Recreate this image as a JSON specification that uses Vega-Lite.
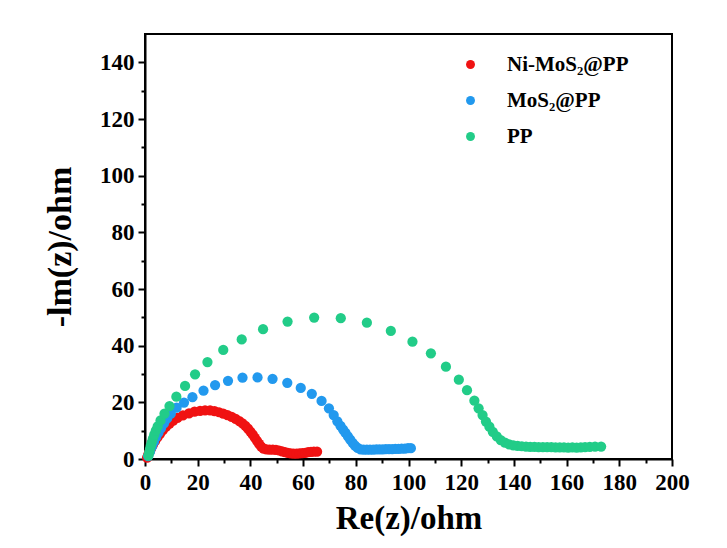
{
  "$schema": "https://vega.github.io/schema/vega-lite/v6.json",
  "width": 527,
  "height": 425,
  "autosize": {"type": "none"},
  "padding": {"left": 145, "top": 34, "right": 55, "bottom": 89},
  "background": "white",
  "config": {
    "view": {"stroke": "black", "strokeWidth": 2},
    "font": "Liberation Serif"
  },
  "data": {
    "values": [
      {"s": "Ni-MoS₂@PP", "x": 0.8, "y": 0.5}, {"s": "Ni-MoS₂@PP", "x": 1.2, "y": 1.5}, {"s": "Ni-MoS₂@PP", "x": 1.7, "y": 2.6}, {"s": "Ni-MoS₂@PP", "x": 2.3, "y": 3.7}, {"s": "Ni-MoS₂@PP", "x": 3.0, "y": 5.0}, {"s": "Ni-MoS₂@PP", "x": 3.8, "y": 6.3}, {"s": "Ni-MoS₂@PP", "x": 4.7, "y": 7.6}, {"s": "Ni-MoS₂@PP", "x": 5.7, "y": 8.9}, {"s": "Ni-MoS₂@PP", "x": 6.8, "y": 10.2}, {"s": "Ni-MoS₂@PP", "x": 8.0, "y": 11.4}, {"s": "Ni-MoS₂@PP", "x": 9.3, "y": 12.5}, {"s": "Ni-MoS₂@PP", "x": 10.7, "y": 13.5}, {"s": "Ni-MoS₂@PP", "x": 12.3, "y": 14.5}, {"s": "Ni-MoS₂@PP", "x": 14.4, "y": 15.4}, {"s": "Ni-MoS₂@PP", "x": 16.7, "y": 16.1}, {"s": "Ni-MoS₂@PP", "x": 18.8, "y": 16.7}, {"s": "Ni-MoS₂@PP", "x": 20.9, "y": 17.0}, {"s": "Ni-MoS₂@PP", "x": 22.8, "y": 17.2}, {"s": "Ni-MoS₂@PP", "x": 24.7, "y": 17.2}, {"s": "Ni-MoS₂@PP", "x": 26.4, "y": 16.9}, {"s": "Ni-MoS₂@PP", "x": 28.1, "y": 16.5}, {"s": "Ni-MoS₂@PP", "x": 29.7, "y": 16.0}, {"s": "Ni-MoS₂@PP", "x": 31.3, "y": 15.5}, {"s": "Ni-MoS₂@PP", "x": 32.9, "y": 14.9}, {"s": "Ni-MoS₂@PP", "x": 34.4, "y": 14.2}, {"s": "Ni-MoS₂@PP", "x": 35.8, "y": 13.4}, {"s": "Ni-MoS₂@PP", "x": 37.0, "y": 12.6}, {"s": "Ni-MoS₂@PP", "x": 38.1, "y": 11.7}, {"s": "Ni-MoS₂@PP", "x": 39.1, "y": 10.7}, {"s": "Ni-MoS₂@PP", "x": 40.0, "y": 9.7}, {"s": "Ni-MoS₂@PP", "x": 40.9, "y": 8.6}, {"s": "Ni-MoS₂@PP", "x": 41.7, "y": 7.5}, {"s": "Ni-MoS₂@PP", "x": 42.5, "y": 6.4}, {"s": "Ni-MoS₂@PP", "x": 43.3, "y": 5.3}, {"s": "Ni-MoS₂@PP", "x": 44.1, "y": 4.4}, {"s": "Ni-MoS₂@PP", "x": 45.0, "y": 3.7}, {"s": "Ni-MoS₂@PP", "x": 46.1, "y": 3.4}, {"s": "Ni-MoS₂@PP", "x": 47.3, "y": 3.3}, {"s": "Ni-MoS₂@PP", "x": 48.5, "y": 3.3}, {"s": "Ni-MoS₂@PP", "x": 49.7, "y": 3.2}, {"s": "Ni-MoS₂@PP", "x": 50.9, "y": 3.0}, {"s": "Ni-MoS₂@PP", "x": 52.0, "y": 2.7}, {"s": "Ni-MoS₂@PP", "x": 53.1, "y": 2.4}, {"s": "Ni-MoS₂@PP", "x": 54.2, "y": 2.2}, {"s": "Ni-MoS₂@PP", "x": 55.3, "y": 2.0}, {"s": "Ni-MoS₂@PP", "x": 56.4, "y": 1.9}, {"s": "Ni-MoS₂@PP", "x": 57.5, "y": 1.9}, {"s": "Ni-MoS₂@PP", "x": 58.6, "y": 2.0}, {"s": "Ni-MoS₂@PP", "x": 59.7, "y": 2.1}, {"s": "Ni-MoS₂@PP", "x": 60.8, "y": 2.2}, {"s": "Ni-MoS₂@PP", "x": 61.9, "y": 2.4}, {"s": "Ni-MoS₂@PP", "x": 63.0, "y": 2.5}, {"s": "Ni-MoS₂@PP", "x": 64.1, "y": 2.6}, {"s": "Ni-MoS₂@PP", "x": 65.3, "y": 2.6},

      {"s": "MoS₂@PP", "x": 1.2, "y": 1.0}, {"s": "MoS₂@PP", "x": 1.9, "y": 2.6}, {"s": "MoS₂@PP", "x": 2.6, "y": 4.3}, {"s": "MoS₂@PP", "x": 3.4, "y": 6.0}, {"s": "MoS₂@PP", "x": 4.2, "y": 7.7}, {"s": "MoS₂@PP", "x": 5.1, "y": 9.3}, {"s": "MoS₂@PP", "x": 6.1, "y": 10.9}, {"s": "MoS₂@PP", "x": 7.2, "y": 12.6}, {"s": "MoS₂@PP", "x": 8.4, "y": 14.3}, {"s": "MoS₂@PP", "x": 9.8, "y": 16.0}, {"s": "MoS₂@PP", "x": 12.0, "y": 18.1}, {"s": "MoS₂@PP", "x": 14.8, "y": 19.9}, {"s": "MoS₂@PP", "x": 18.0, "y": 21.8}, {"s": "MoS₂@PP", "x": 22.2, "y": 24.1}, {"s": "MoS₂@PP", "x": 26.6, "y": 26.1}, {"s": "MoS₂@PP", "x": 31.5, "y": 27.6}, {"s": "MoS₂@PP", "x": 37.0, "y": 28.7}, {"s": "MoS₂@PP", "x": 42.7, "y": 28.8}, {"s": "MoS₂@PP", "x": 48.4, "y": 28.3}, {"s": "MoS₂@PP", "x": 54.0, "y": 26.9}, {"s": "MoS₂@PP", "x": 59.1, "y": 25.1}, {"s": "MoS₂@PP", "x": 63.3, "y": 23.0}, {"s": "MoS₂@PP", "x": 67.0, "y": 20.5}, {"s": "MoS₂@PP", "x": 69.8, "y": 17.9}, {"s": "MoS₂@PP", "x": 71.6, "y": 15.5}, {"s": "MoS₂@PP", "x": 73.0, "y": 13.3}, {"s": "MoS₂@PP", "x": 74.2, "y": 11.7}, {"s": "MoS₂@PP", "x": 75.2, "y": 10.4}, {"s": "MoS₂@PP", "x": 76.1, "y": 9.2}, {"s": "MoS₂@PP", "x": 77.0, "y": 8.0}, {"s": "MoS₂@PP", "x": 77.9, "y": 6.8}, {"s": "MoS₂@PP", "x": 78.8, "y": 5.7}, {"s": "MoS₂@PP", "x": 79.7, "y": 4.7}, {"s": "MoS₂@PP", "x": 80.7, "y": 3.9}, {"s": "MoS₂@PP", "x": 81.8, "y": 3.4}, {"s": "MoS₂@PP", "x": 83.0, "y": 3.3}, {"s": "MoS₂@PP", "x": 84.2, "y": 3.3}, {"s": "MoS₂@PP", "x": 85.4, "y": 3.3}, {"s": "MoS₂@PP", "x": 86.6, "y": 3.3}, {"s": "MoS₂@PP", "x": 87.8, "y": 3.4}, {"s": "MoS₂@PP", "x": 89.0, "y": 3.4}, {"s": "MoS₂@PP", "x": 90.2, "y": 3.4}, {"s": "MoS₂@PP", "x": 91.4, "y": 3.5}, {"s": "MoS₂@PP", "x": 92.6, "y": 3.5}, {"s": "MoS₂@PP", "x": 93.8, "y": 3.5}, {"s": "MoS₂@PP", "x": 95.0, "y": 3.6}, {"s": "MoS₂@PP", "x": 96.2, "y": 3.6}, {"s": "MoS₂@PP", "x": 97.4, "y": 3.7}, {"s": "MoS₂@PP", "x": 98.6, "y": 3.7}, {"s": "MoS₂@PP", "x": 99.8, "y": 3.8}, {"s": "MoS₂@PP", "x": 100.9, "y": 3.8},

      {"s": "PP", "x": 1.3, "y": 1.2}, {"s": "PP", "x": 1.6, "y": 2.4}, {"s": "PP", "x": 1.9, "y": 3.6}, {"s": "PP", "x": 2.2, "y": 4.8}, {"s": "PP", "x": 2.6, "y": 6.0}, {"s": "PP", "x": 3.0, "y": 7.2}, {"s": "PP", "x": 3.5, "y": 8.6}, {"s": "PP", "x": 4.1, "y": 10.0}, {"s": "PP", "x": 4.8, "y": 11.5}, {"s": "PP", "x": 5.9, "y": 13.6}, {"s": "PP", "x": 7.4, "y": 16.0}, {"s": "PP", "x": 9.3, "y": 18.7}, {"s": "PP", "x": 11.9, "y": 22.0}, {"s": "PP", "x": 15.2, "y": 25.8}, {"s": "PP", "x": 19.0, "y": 29.9}, {"s": "PP", "x": 23.7, "y": 34.2}, {"s": "PP", "x": 29.7, "y": 38.5}, {"s": "PP", "x": 36.7, "y": 42.2}, {"s": "PP", "x": 44.8, "y": 45.8}, {"s": "PP", "x": 54.1, "y": 48.5}, {"s": "PP", "x": 64.2, "y": 49.9}, {"s": "PP", "x": 74.3, "y": 49.7}, {"s": "PP", "x": 84.2, "y": 48.1}, {"s": "PP", "x": 93.3, "y": 45.2}, {"s": "PP", "x": 101.5, "y": 41.4}, {"s": "PP", "x": 108.5, "y": 37.3}, {"s": "PP", "x": 114.2, "y": 32.6}, {"s": "PP", "x": 119.1, "y": 28.0}, {"s": "PP", "x": 122.2, "y": 24.3}, {"s": "PP", "x": 125.0, "y": 20.6}, {"s": "PP", "x": 126.6, "y": 17.9}, {"s": "PP", "x": 128.1, "y": 15.5}, {"s": "PP", "x": 129.4, "y": 13.2}, {"s": "PP", "x": 130.7, "y": 11.4}, {"s": "PP", "x": 132.0, "y": 9.6}, {"s": "PP", "x": 133.5, "y": 8.0}, {"s": "PP", "x": 135.0, "y": 6.7}, {"s": "PP", "x": 136.6, "y": 5.8}, {"s": "PP", "x": 138.2, "y": 5.2}, {"s": "PP", "x": 139.8, "y": 4.8}, {"s": "PP", "x": 141.4, "y": 4.6}, {"s": "PP", "x": 143.0, "y": 4.5}, {"s": "PP", "x": 144.6, "y": 4.4}, {"s": "PP", "x": 146.2, "y": 4.3}, {"s": "PP", "x": 147.8, "y": 4.3}, {"s": "PP", "x": 149.4, "y": 4.2}, {"s": "PP", "x": 151.0, "y": 4.2}, {"s": "PP", "x": 152.6, "y": 4.2}, {"s": "PP", "x": 154.2, "y": 4.2}, {"s": "PP", "x": 155.8, "y": 4.1}, {"s": "PP", "x": 157.4, "y": 4.1}, {"s": "PP", "x": 159.0, "y": 4.1}, {"s": "PP", "x": 160.6, "y": 4.0}, {"s": "PP", "x": 162.2, "y": 4.1}, {"s": "PP", "x": 163.8, "y": 4.0}, {"s": "PP", "x": 165.4, "y": 4.1}, {"s": "PP", "x": 167.0, "y": 4.2}, {"s": "PP", "x": 168.8, "y": 4.3}, {"s": "PP", "x": 170.8, "y": 4.4}, {"s": "PP", "x": 173.1, "y": 4.4}
    ]
  },
  "mark": {"type": "point", "filled": true, "size": 105, "opacity": 1, "strokeWidth": 0},
  "encoding": {
    "x": {
      "field": "x", "type": "quantitative",
      "scale": {"domain": [0, 200], "nice": false, "zero": false},
      "axis": {
        "title": "Re(z)/ohm",
        "values": [0, 10, 20, 30, 40, 50, 60, 70, 80, 90, 100, 110, 120, 130, 140, 150, 160, 170, 180, 190, 200],
        "labelExpr": "datum.value % 20 === 0 ? datum.label : ''",
        "grid": false,
        "domainColor": "black", "domainWidth": 2,
        "tickColor": "black", "tickWidth": 2,
        "tickSize": {"condition": {"test": "datum.value % 20 !== 0", "value": 4}, "value": 7},
        "labelFont": "Liberation Serif", "labelFontSize": 23, "labelFontWeight": "bold", "labelColor": "black",
        "labelPadding": 5, "labelFlush": false, "labelOverlap": false,
        "titleFont": "Liberation Serif", "titleFontSize": 33, "titleFontWeight": "bold", "titleColor": "black",
        "titlePadding": 8
      }
    },
    "y": {
      "field": "y", "type": "quantitative",
      "scale": {"domain": [0, 150], "nice": false, "zero": false},
      "axis": {
        "title": "-lm(z)/ohm",
        "values": [0, 10, 20, 30, 40, 50, 60, 70, 80, 90, 100, 110, 120, 130, 140],
        "labelExpr": "datum.value % 20 === 0 ? datum.label : ''",
        "grid": false,
        "domainColor": "black", "domainWidth": 2,
        "tickColor": "black", "tickWidth": 2,
        "tickSize": {"condition": {"test": "datum.value % 20 !== 0", "value": 4}, "value": 7},
        "labelFont": "Liberation Serif", "labelFontSize": 23, "labelFontWeight": "bold", "labelColor": "black",
        "labelPadding": 4, "labelFlush": false, "labelOverlap": false,
        "titleFont": "Liberation Serif", "titleFontSize": 34, "titleFontWeight": "bold", "titleColor": "black",
        "titlePadding": 22
      }
    },
    "color": {
      "field": "s", "type": "nominal",
      "scale": {"domain": ["Ni-MoS₂@PP", "MoS₂@PP", "PP"], "range": ["#f01212", "#2299ee", "#22cc88"]},
      "legend": {
        "title": null,
        "orient": "none",
        "legendX": 315,
        "legendY": 20,
        "symbolType": "circle",
        "symbolSize": 80,
        "symbolStrokeWidth": 0,
        "labelFont": "Liberation Serif", "labelFontSize": 21, "labelFontWeight": "bold", "labelColor": "black",
        "labelOffset": 26,
        "rowPadding": 14
      }
    }
  }
}
